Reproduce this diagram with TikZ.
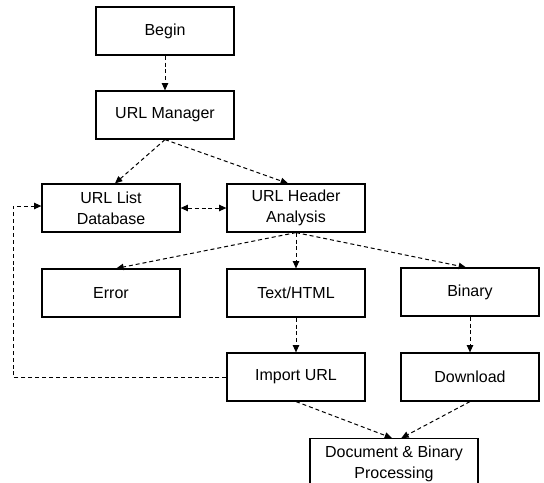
\documentclass[tikz,border=0pt]{standalone}
\usepackage{fontspec}
\setmainfont{Liberation Sans}
\usetikzlibrary{arrows.meta}

\begin{document}
\begin{tikzpicture}[x=0.75pt,y=0.75pt,yscale=-1,xscale=1,
  box/.style={draw, line width=0.9pt, minimum width=103.5pt, minimum height=36pt, inner sep=0pt, align=center, font=\fontsize{12}{15.5}\selectfont},
  flow/.style={line width=0.75pt, dash pattern=on 3pt off 2.2pt, -{Triangle[length=5.5pt,width=4.8pt]}},
  both/.style={flow, {Triangle[length=5.5pt,width=4.8pt]}-{Triangle[length=5.5pt,width=4.8pt]}}]
%set diagram left start at 0, and has height of 483
\useasboundingbox (0,0) rectangle (544,483);

%Shape: Rectangle
\node [box] (begin) at (165,31) {Begin};
%Shape: Rectangle
\node [box] (manager) at (165,115) {URL Manager};
%Shape: Rectangle
\node [box] (listdb) at (111,208) {URL List\\Database};
%Shape: Rectangle
\node [box] (header) at (296,208) {URL Header\\Analysis};
%Shape: Rectangle
\node [box] (error) at (111,293) {Error};
%Shape: Rectangle
\node [box] (texthtml) at (296,293) {Text/HTML};
%Shape: Rectangle
\node [box] (binary) at (470,292) {Binary};
%Shape: Rectangle
\node [box] (import) at (296,377) {Import URL};
%Shape: Rectangle
\node [box] (download) at (470,377) {Download};
%Shape: Rectangle
\node [box, minimum width=126pt, minimum height=38pt] (docproc) at (394,464) {Document \& Binary\\Processing};

%Straight Lines
\draw [flow] (begin) -- (manager);
\draw [flow] (manager.south) -- ([xshift=3pt]listdb.north);
\draw [flow] (manager.south) -- ([xshift=-6pt]header.north);
\draw [both] (listdb) -- (header);
\draw [flow] (header.south) -- ([xshift=4pt]error.north);
\draw [flow] (header.south) -- (texthtml.north);
\draw [flow] (header.south) -- ([xshift=-3pt]binary.north);
\draw [flow] (texthtml) -- (import);
\draw [flow] (binary) -- (download);
\draw [flow] (import.south) -- ([xshift=-1.5pt]docproc.north);
\draw [flow] (download.south) -- ([xshift=5.5pt]docproc.north);
%feedback to the database
\coordinate (loop) at (13,377);
\draw [flow] (import.west) -- (loop) |- ([yshift=-1.5pt]listdb.west);

\end{tikzpicture}
\end{document}
